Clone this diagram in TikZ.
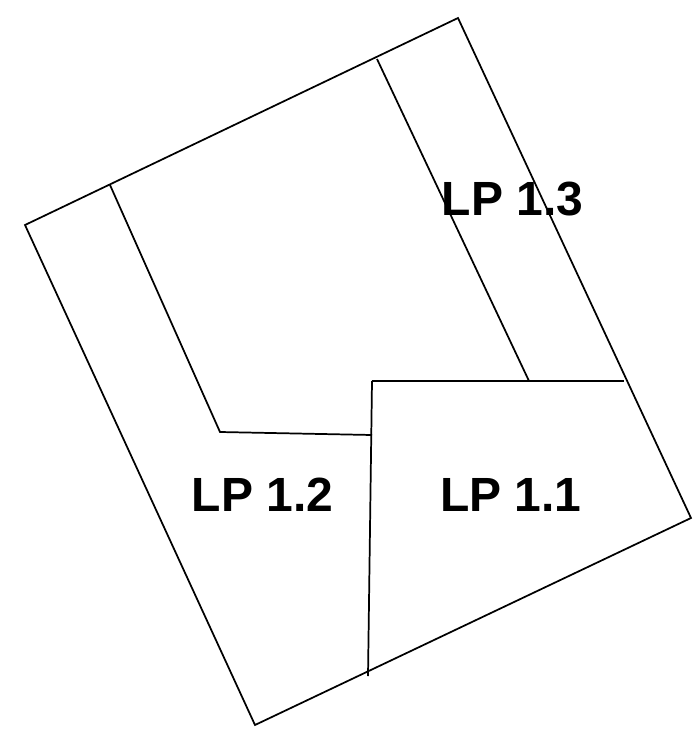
\documentclass[tikz,border=0pt]{standalone}
\usepackage{fontspec}
\setmainfont{Liberation Sans}
\usetikzlibrary{positioning}
\tikzset{
    %Define style for labels
    plotlabel/.style={
           font=\fontsize{36}{40}\selectfont\bfseries,
           text centered,
           inner sep=0pt},
    boundary/.style={
           draw=black,
           line width=1.3pt,
           line join=miter}
}
\begin{document}
\begin{tikzpicture}[x=0.75pt,y=-0.75pt]
\useasboundingbox (0,0) rectangle (694,738);
 %corners
\coordinate (top) at (458,18);
\coordinate (right) at (691,518);
\coordinate (bottom) at (255,725);
\coordinate (left) at (25,225);
 %points on the outline
\coordinate (upa) at (110,185);
\coordinate (upb) at (377,59);
\coordinate (rightc) at (624,381);
\coordinate (lowd) at (368,676);
 %inner points
\coordinate (bend) at (220,432);
\coordinate (inner) at (372,381);
\coordinate (innerb) at (529,381);
\coordinate (junction) at (372,435);
 %outline
\draw[boundary] (top) -- (right) -- (bottom) -- (left) -- cycle;
 %lines
\draw[boundary] (upa) -- (bend) -- (junction);
\draw[boundary] (upb) -- (innerb);
\draw[boundary] (inner) -- (rightc);
\draw[boundary] (inner) -- (lowd);
 %labels
\node[plotlabel] (lp3) at (512.5,199) {LP 1.3};
\node[plotlabel] (lp2) at (262.5,495) {LP 1.2};
\node[plotlabel] (lp1) at (511,495) {LP 1.1};
\end{tikzpicture}
\end{document}
